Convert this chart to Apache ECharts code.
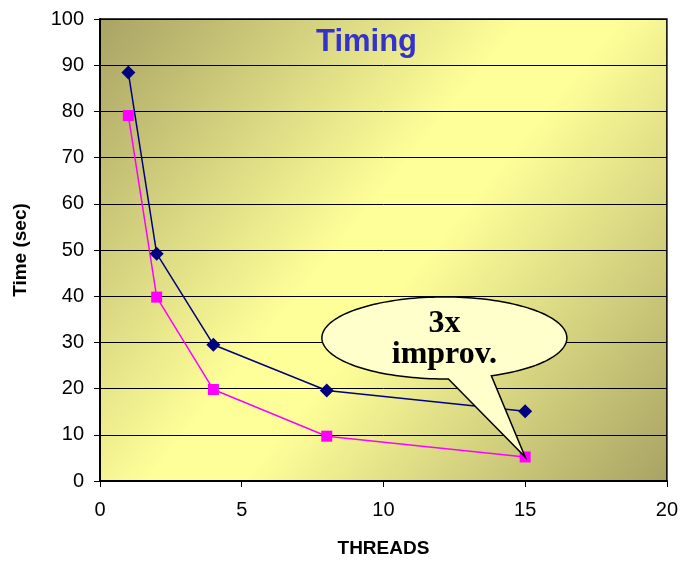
<!DOCTYPE html>
<html>
<head>
<meta charset="utf-8">
<script src="https://cdn.jsdelivr.net/npm/echarts@6/dist/echarts.min.js"></script>
<style>
  html, body { margin: 0; padding: 0; background: #fff; }
  #chart { width: 681px; height: 563px; }
</style>
</head>
<body>
<div id="chart"></div>
<script>
// Run time versus number of threads for two builds
const threads = [1, 2, 4, 8, 15];
const timeBaseline = [88.4, 49.2, 29.5, 19.6, 15.1];
const timeImproved = [79.1, 39.8, 19.8, 9.7, 5.2];
const xTicks = [0, 5, 10, 15, 20];
const yTicks = [0, 10, 20, 30, 40, 50, 60, 70, 80, 90, 100];

// Callout: anchored in data space, tail points to the last improved point
const calloutText = '3x\nimprov.';
const calloutCenter = [12.15, 30.97];
const calloutTarget = [threads[4], timeImproved[4]];

const SANS = '"Liberation Sans", Arial, sans-serif';
const SERIF = '"Liberation Serif", "Times New Roman", serif';

const chart = echarts.init(document.getElementById('chart'));

const option = {
  animation: false,
  backgroundColor: '#ffffff',
  title: {
    text: 'Timing',
    left: 316,
    top: 27,
    padding: 0,
    textStyle: { color: '#3333cc', fontSize: 31, fontWeight: 'bold', fontFamily: SANS }
  },
  grid: {
    left: 100, top: 19, right: 14, bottom: 79,
    show: true,
    borderColor: '#000',
    borderWidth: 1.5,
    backgroundColor: {
      type: 'linear', x: 0, y: 0, x2: 1, y2: 1,
      colorStops: [
        { offset: 0, color: '#a8a364' },
        { offset: 0.45, color: '#ffff99' },
        { offset: 0.55, color: '#ffff99' },
        { offset: 1, color: '#a8a364' }
      ]
    }
  },
  xAxis: {
    type: 'value',
    min: xTicks[0],
    max: xTicks[xTicks.length - 1],
    interval: xTicks[1] - xTicks[0],
    name: 'THREADS',
    nameLocation: 'middle',
    nameGap: 58,
    nameTextStyle: { color: '#000', fontSize: 19, fontWeight: 'bold', fontFamily: SANS },
    axisLine: { show: true, lineStyle: { color: '#000', width: 2 } },
    axisTick: { show: true, length: 6, lineStyle: { color: '#000', width: 1 } },
    axisLabel: { color: '#000', fontSize: 20, fontFamily: SANS, margin: 19 },
    splitLine: { show: false }
  },
  yAxis: {
    type: 'value',
    min: yTicks[0],
    max: yTicks[yTicks.length - 1],
    interval: yTicks[1] - yTicks[0],
    name: 'Time (sec)',
    nameLocation: 'middle',
    nameGap: 70,
    nameTextStyle: { color: '#000', fontSize: 19, fontWeight: 'bold', fontFamily: SANS },
    axisLine: { show: true, lineStyle: { color: '#000', width: 2 } },
    axisTick: { show: true, length: 6, lineStyle: { color: '#000', width: 1 } },
    axisLabel: { color: '#000', fontSize: 20, fontFamily: SANS, margin: 16 },
    splitLine: { show: true, lineStyle: { color: '#000', width: 1 } }
  },
  series: [
    {
      type: 'line',
      data: threads.map((t, i) => [t, timeBaseline[i]]),
      symbol: 'diamond',
      symbolSize: 14,
      lineStyle: { color: '#000080', width: 1.5 },
      itemStyle: { color: '#000080' }
    },
    {
      type: 'line',
      data: threads.map((t, i) => [t, timeImproved[i]]),
      symbol: 'rect',
      symbolSize: 11,
      lineStyle: { color: '#ff00ff', width: 1.5 },
      itemStyle: { color: '#ff00ff' }
    }
  ]
};

chart.setOption(option);

// Speech bubble: an ellipse outline with a wedge tail, traced as one polygon
const c = chart.convertToPixel({ gridIndex: 0 }, calloutCenter);
const tip = chart.convertToPixel({ gridIndex: 0 }, calloutTarget);
const rx = 122.5, ry = 41;
const baseL = 4, baseR = 47;
const angR = Math.acos(baseR / rx);   // right foot of the tail, below the centre
const angL = Math.acos(baseL / rx);   // left foot of the tail
const pts = [];
const steps = 160;
// walk from the right foot, up over the top, and down to the left foot
for (let i = 0; i <= steps; i++) {
  const a = angR - (angR - angL + 2 * Math.PI) * (i / steps);
  pts.push([c[0] + rx * Math.cos(a), c[1] + ry * Math.sin(a)]);
}
pts.push([tip[0], tip[1]]);

chart.setOption({
  graphic: [
    {
      type: 'polygon',
      z: 50,
      shape: { points: pts },
      style: { fill: '#ffffcc', stroke: '#000', lineWidth: 1.5, lineJoin: 'miter' }
    },
    {
      type: 'text',
      z: 51,
      x: c[0],
      y: c[1] + 1,
      style: {
        text: calloutText,
        fill: '#000',
        font: 'bold 32px ' + SERIF,
        lineHeight: 31,
        align: 'center',
        verticalAlign: 'middle'
      }
    }
  ]
});
</script>
</body>
</html>
